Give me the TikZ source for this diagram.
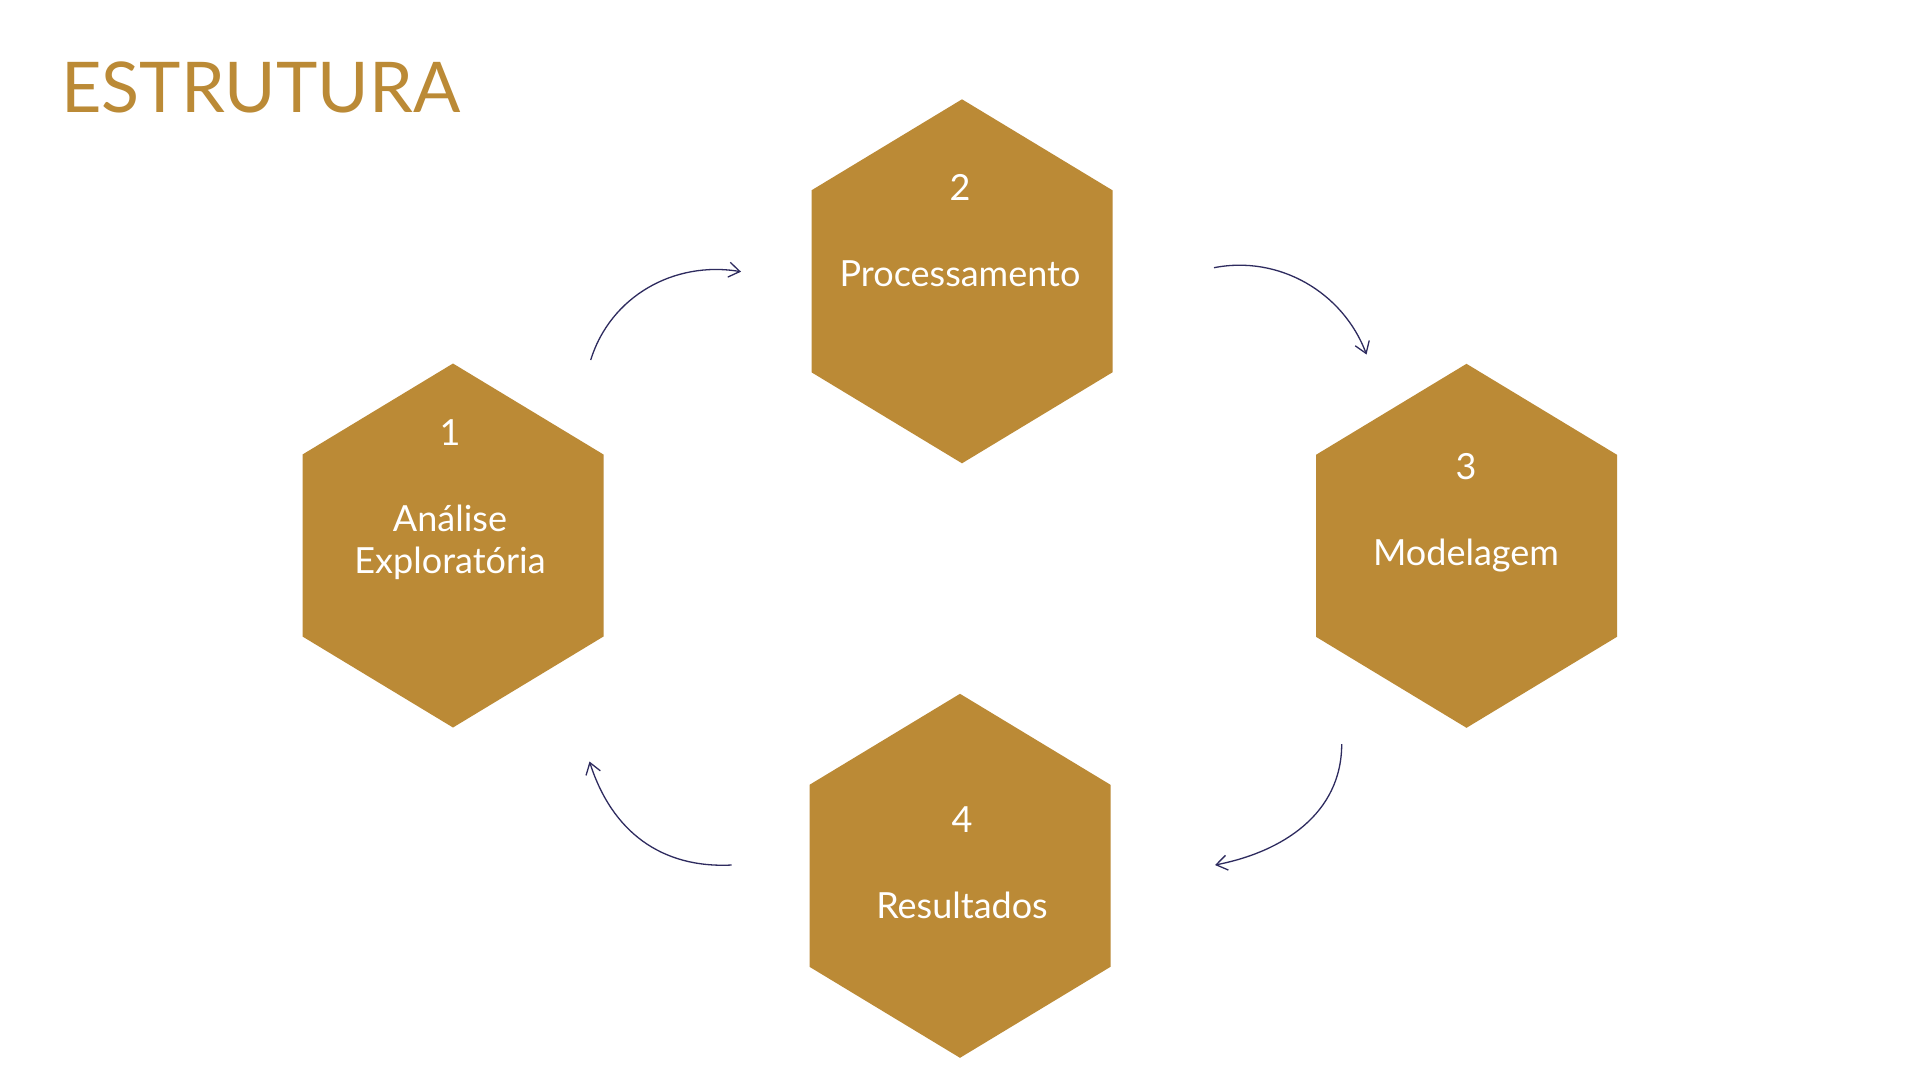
\documentclass[tikz,border=0pt]{standalone}
\usepackage{fontspec}
\setmainfont{Lato}
\usetikzlibrary{arrows.meta}
\definecolor{hexgold}{HTML}{BB8A36}
\definecolor{arrownavy}{HTML}{2E2B5F}
\tikzset{
  hexa/.pic={\fill[hexgold] (0,-182) -- (150.5,-91) -- (150.5,91) -- (0,182)
             -- (-150.5,91) -- (-150.5,-91) -- cycle;},
  hexlabel/.style={text=white, inner sep=0pt, anchor=base, align=center,
                   font=\fontsize{36}{41.5}\selectfont},
  cyclearrow/.style={draw=arrownavy, line width=1.3pt,
                     -{Straight Barb[length=11pt, width=15pt, line width=1.3pt]}},
}
\begin{document}
\begin{tikzpicture}[x=1pt, y=-1pt]
\useasboundingbox (0,0) rectangle (1920,1080);
\fill[white] (0,0) rectangle (1920,1080);

% title
\node[anchor=base west, inner sep=0pt, text=hexgold,
      font=\fontsize{70}{80}\selectfont] (title) at (61,112) {ESTRUTURA};

% hexagons
\pic at (453,545.5) {hexa};
\pic at (962,281.3) {hexa};
\pic at (1466.5,545.8) {hexa};
\pic at (960,875.8) {hexa};

% step numbers and names
\node[hexlabel] (n1) at (450,445) {1};
\node[hexlabel] (t1) at (450,573) {Análise\\Exploratória};
\node[hexlabel] (n2) at (960,200.7) {2};
\node[hexlabel] (t2) at (960,286.7) {Processamento};
\node[hexlabel] (n3) at (1466,479.3) {3};
\node[hexlabel] (t3) at (1466,565) {Modelagem};
\node[hexlabel] (n4) at (962,832.7) {4};
\node[hexlabel] (t4) at (962,918.3) {Resultados};

% end points of the cycle arrows
\coordinate (a12s) at (590.7,360);
\coordinate (a12e) at (741,271.7);
\coordinate (a23s) at (1214,267.7);
\coordinate (a23e) at (1366.5,354.5);
\coordinate (a34s) at (1341.7,744);
\coordinate (a34e) at (1215,865);
\coordinate (a41s) at (731.7,865);
\coordinate (a41e) at (589.5,761.5);

% cycle arrows
\draw[cyclearrow] (a12s) .. controls (610.4,296.3) and (674.2,260.5) .. (a12e);
\draw[cyclearrow] (a23s) .. controls (1278.5,255) and (1342.8,291.7) .. (a23e);
\draw[cyclearrow] (a34s) .. controls (1341.7,814) and (1282,852) .. (a34e);
\draw[cyclearrow] (a41s) .. controls (661.7,868.5) and (612,832) .. (a41e);
\end{tikzpicture}
\end{document}
